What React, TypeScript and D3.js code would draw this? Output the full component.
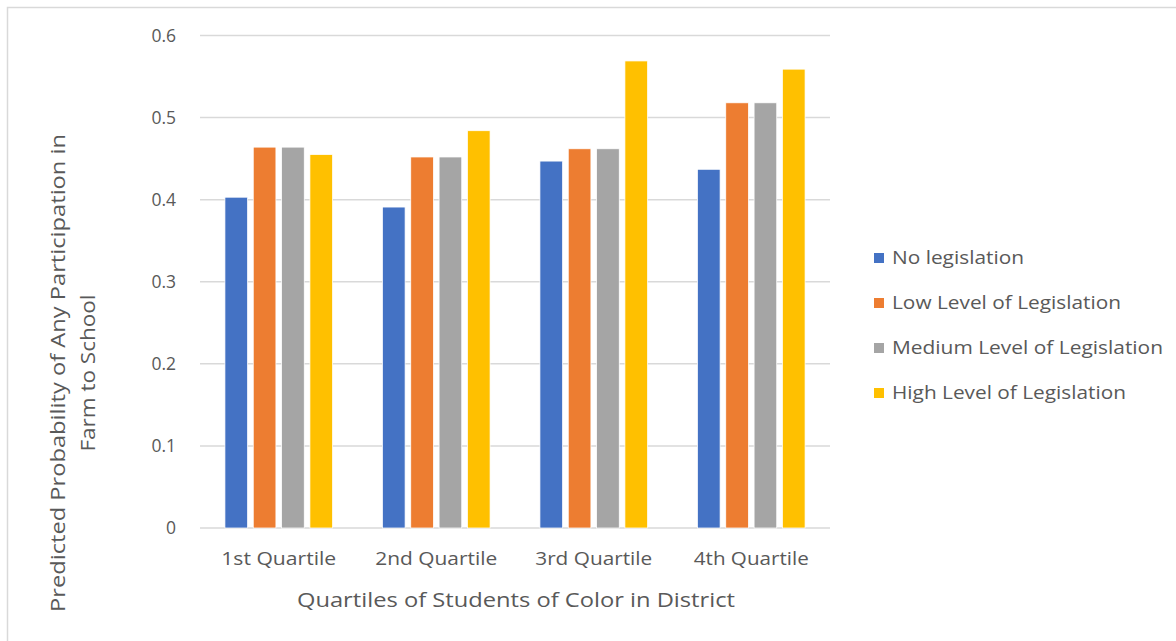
import React from "react";
import * as d3 from "d3";

// Quartile groups on the x axis
const quartiles = ["1st Quartile", "2nd Quartile", "3rd Quartile", "4th Quartile"];

// Legislation levels (series)
const seriesNames = [
  "No legislation",
  "Low Level of Legislation",
  "Medium Level of Legislation",
  "High Level of Legislation",
];
const seriesColors = ["#4472C4", "#ED7D31", "#A5A5A5", "#FFC000"];

// Predicted probabilities per series, one value per quartile
const noLegislation = [0.403, 0.391, 0.447, 0.437];
const lowLegislation = [0.464, 0.452, 0.462, 0.518];
const mediumLegislation = [0.464, 0.452, 0.462, 0.518];
const highLegislation = [0.455, 0.484, 0.569, 0.559];
const seriesValues = [noLegislation, lowLegislation, mediumLegislation, highLegislation];

// y axis ticks
const yTicks = [0, 0.1, 0.2, 0.3, 0.4, 0.5, 0.6];

const W = 1176;
const H = 641;
const plot = { left: 200, right: 830, top: 35.5, bottom: 528 };
const textColor = "#595959";
const gridColor = "#D9D9D9";
const font = "'Open Sans', 'Liberation Sans', sans-serif";

export default function App() {
  const x0 = d3
    .scaleBand<string>()
    .domain(quartiles)
    .range([plot.left, plot.right])
    .paddingInner(0)
    .paddingOuter(0);
  const x1 = d3
    .scaleBand<string>()
    .domain(seriesNames)
    .range([0, x0.bandwidth()])
    .paddingInner(0.2)
    .paddingOuter(0.88);
  const y = d3.scaleLinear().domain([0, 0.6]).range([plot.bottom, plot.top]);

  const tickFmt = (v: number) => (v === 0 ? "0" : d3.format(".1f")(v));

  const legendRows = [258, 303, 348, 393];
  const legendWidths = [132, 229, 271, 234];
  const categoryWidths = [115, 122, 117, 115];

  return (
    <svg
      width={W}
      height={H}
      style={{ position: "absolute", left: 0, top: 0, background: "#fff" }}
    >
      <rect x={0} y={0} width={W} height={H} fill="#fff" />
      {/* chart frame */}
      <rect x={7.5} y={7.5} width={W + 20} height={H + 20} fill="none" stroke={gridColor} strokeWidth={1.5} />

      {/* gridlines */}
      {yTicks.map((t) => (
        <line
          key={t}
          x1={plot.left}
          x2={plot.right}
          y1={y(t)}
          y2={y(t)}
          stroke={gridColor}
          strokeWidth={1.5}
        />
      ))}

      {/* y tick labels */}
      {yTicks.map((t) => (
        <text
          key={"l" + t}
          x={176}
          y={y(t)}
          dy="0.36em"
          textAnchor="end"
          fontFamily={font}
          fontSize={17.5}
          fill={textColor}
        >
          {tickFmt(t)}
        </text>
      ))}

      {/* bars */}
      {quartiles.map((q, qi) => (
        <g key={q} transform={`translate(${x0(q)},0)`}>
          {seriesNames.map((s, si) => {
            const v = seriesValues[si][qi];
            return (
              <rect
                key={s}
                x={x1(s)}
                y={y(v)}
                width={x1.bandwidth()}
                height={y(0) - y(v)}
                fill={seriesColors[si]}
                stroke="#fff"
                strokeWidth={0.75}
              />
            );
          })}
        </g>
      ))}

      {/* category labels */}
      {quartiles.map((q, i) => (
        <text
          key={"c" + q}
          x={(x0(q) as number) + x0.bandwidth() / 2}
          y={565}
          textAnchor="middle"
          fontFamily={font}
          fontSize={18}
          fill={textColor}
          textLength={categoryWidths[i]}
          lengthAdjust="spacingAndGlyphs"
        >
          {q}
        </text>
      ))}

      {/* x axis title */}
      <text
        x={516}
        y={607}
        textAnchor="middle"
        fontFamily={font}
        fontSize={20}
        fill={textColor}
        textLength={438}
        lengthAdjust="spacingAndGlyphs"
      >
        Quartiles of Students  of Color in District
      </text>

      {/* y axis title */}
      <text
        transform={`translate(65,373) rotate(-90)`}
        textAnchor="middle"
        fontFamily={font}
        fontSize={20}
        fill={textColor}
        textLength={478}
        lengthAdjust="spacingAndGlyphs"
      >
        Predicted Probability of Any Participation in
      </text>
      <text
        transform={`translate(95,373) rotate(-90)`}
        textAnchor="middle"
        fontFamily={font}
        fontSize={20}
        fill={textColor}
        textLength={157}
        lengthAdjust="spacingAndGlyphs"
      >
        Farm to School
      </text>

      {/* legend */}
      {seriesNames.map((s, i) => (
        <g key={"lg" + s}>
          <rect x={874} y={legendRows[i] - 5} width={10} height={10} fill={seriesColors[i]} />
          <text
            x={892}
            y={legendRows[i]}
            dy="0.35em"
            fontFamily={font}
            fontSize={18}
            fill={textColor}
            textLength={legendWidths[i]}
            lengthAdjust="spacingAndGlyphs"
          >
            {s}
          </text>
        </g>
      ))}
    </svg>
  );
}
